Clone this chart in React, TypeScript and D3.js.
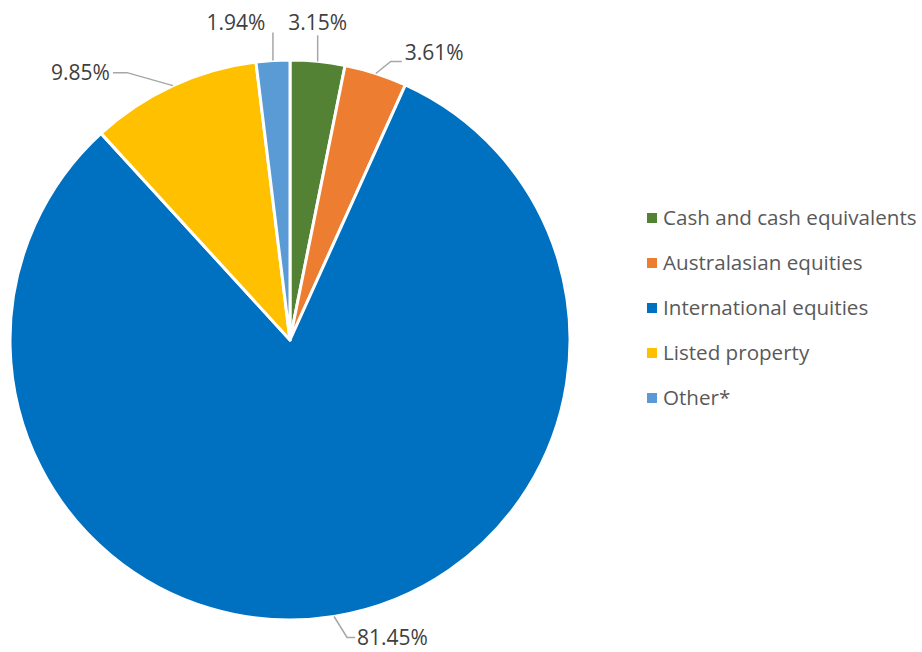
import React from "react";
import * as d3 from "d3";

const categories = [
  "Cash and cash equivalents",
  "Australasian equities",
  "International equities",
  "Listed property",
  "Other*",
];
const values = [3.15, 3.61, 81.45, 9.85, 1.94];
const colors = ["#548235", "#ED7D31", "#0070C0", "#FFC000", "#5B9BD5"];

// label leader layout relative to the arc point at each slice's mid angle
const labelLayout = [
  { pts: [[0, -26]], text: [0, -31], anchor: "middle" },
  { pts: [[15, -12], [26, -12]], text: [29, -13], anchor: "start" },
  { pts: [[13, 21], [21, 21]], text: [23, 28], anchor: "start" },
  { pts: [[-46, -13], [-60, -13]], text: [-63, -6], anchor: "end" },
  { pts: [[0, -28]], text: [-37, -31], anchor: "middle" },
];

const W = 922;
const H = 652;
const cx = 290;
const cy = 340;
const R = 280;
const FONT = "'Open Sans', sans-serif";

export default function App() {
  const pie = d3.pie<number>().sort(null).value((d) => d)(values);
  const arc = d3.arc<d3.PieArcDatum<number>>().innerRadius(0).outerRadius(R);
  const legendY = d3.scalePoint<string>().domain(categories).range([218, 398]);

  return (
    <svg
      width={W}
      height={H}
      style={{ position: "absolute", left: 0, top: 0, background: "#fff" }}
    >
      <g transform={`translate(${cx},${cy})`}>
        {pie.map((p, i) => (
          <path
            key={i}
            d={arc(p) || ""}
            fill={colors[i]}
            stroke="#fff"
            strokeWidth={3}
            strokeLinejoin="round"
          />
        ))}
        {pie.map((p, i) => {
          const mid = (p.startAngle + p.endAngle) / 2;
          const ax = R * Math.sin(mid);
          const ay = -R * Math.cos(mid);
          const L = labelLayout[i];
          const pts = [[ax, ay], ...L.pts.map(([dx, dy]) => [ax + dx, ay + dy])];
          const line = d3.line()(pts as [number, number][]) || "";
          return (
            <g key={"l" + i}>
              <path d={line} fill="none" stroke="#A6A6A6" strokeWidth={1.5} />
              <text
                x={ax + L.text[0]}
                y={ay + L.text[1]}
                textAnchor={L.anchor as any}
                fontFamily={FONT}
                fontSize={21}
                fill="#404040"
              >
                {values[i].toFixed(2) + "%"}
              </text>
            </g>
          );
        })}
      </g>
      <g>
        {categories.map((c, i) => {
          const y = legendY(c) as number;
          return (
            <g key={c}>
              <rect x={647} y={y - 5} width={10} height={10} fill={colors[i]} />
              <text
                x={663}
                y={y}
                dy="0.35em"
                fontFamily={FONT}
                fontSize={20.6}
                fill="#595959"
              >
                {c}
              </text>
            </g>
          );
        })}
      </g>
    </svg>
  );
}
